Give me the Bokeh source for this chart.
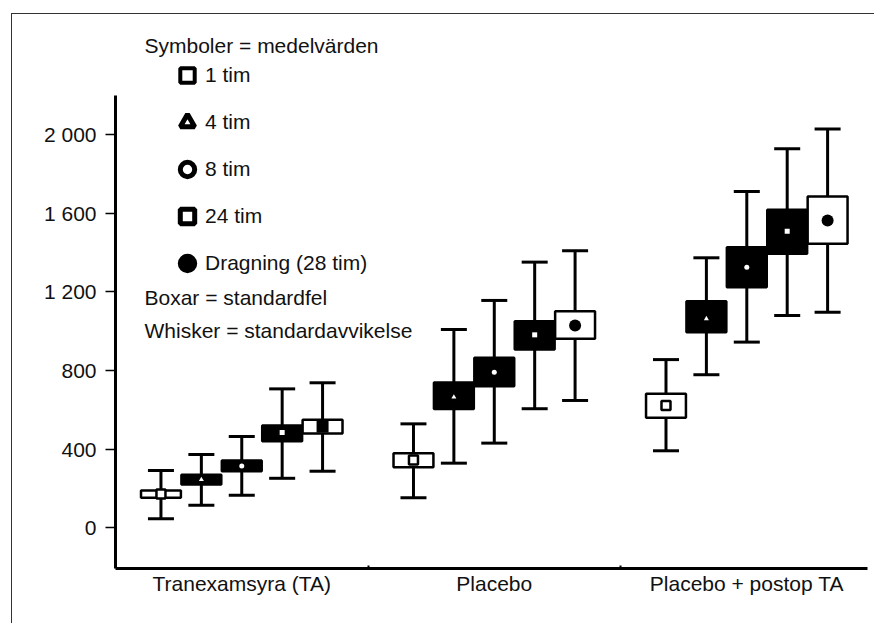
from bokeh.plotting import figure
from bokeh.models import (Range1d, FixedTicker, Label, Legend, LegendItem,
                          ColumnDataSource)
from bokeh.embed import file_html
from bokeh.resources import INLINE

# ---------------- data ----------------
groups = ["Tranexamsyra (TA)", "Placebo", "Placebo + postop TA"]
times = ["1 tim", "4 tim", "8 tim", "24 tim", "Dragning (28 tim)"]

mean_ta = [172, 245, 315, 485, 515]
mean_pl = [345, 665, 792, 982, 1030]
mean_pp = [622, 1064, 1326, 1509, 1564]

se_lo_ta = [153, 220, 288, 441, 480]
se_hi_ta = [190, 270, 342, 521, 550]
se_lo_pl = [308, 604, 721, 907, 962]
se_hi_pl = [380, 739, 865, 1051, 1102]
se_lo_pp = [560, 995, 1224, 1394, 1445]
se_hi_pp = [682, 1153, 1428, 1618, 1686]

sd_lo_ta = [46, 115, 166, 252, 288]
sd_hi_ta = [292, 373, 465, 707, 738]
sd_lo_pl = [153, 329, 431, 606, 648]
sd_hi_pl = [529, 1009, 1157, 1352, 1410]
sd_lo_pp = [392, 779, 945, 1080, 1097]
sd_hi_pp = [856, 1374, 1711, 1929, 2030]

y_ticks = [0, 400, 800, 1200, 1600, 2000]
y_tick_labels = ["0", "400", "800", "1 200", "1 600", "2 000"]

legend_title = "Symboler = medelvärden"
note_box = "Boxar = standardfel"
note_whisker = "Whisker = standardavvikelse"

# ---------------- styles ----------------
FONT = "Liberation Sans"
FS = "21px"
box_w = 0.158
cap_w = 0.103
step = 0.16
box_fill = ["white", "black", "black", "black", "white"]
mean_marker = ["square", "triangle", "circle", "square", "circle"]
mean_fill = ["white", "white", "white", "white", "black"]
mean_size = [9, 5, 5, 5, 12]
mean_line = [2.5, 0, 0, 0, 0]
g1_last_marker = "square"

means = [mean_ta, mean_pl, mean_pp]
se_lo = [se_lo_ta, se_lo_pl, se_lo_pp]
se_hi = [se_hi_ta, se_hi_pl, se_hi_pp]
sd_lo = [sd_lo_ta, sd_lo_pl, sd_lo_pp]
sd_hi = [sd_hi_ta, sd_hi_pl, sd_hi_pp]

rows = dict(x=[], xl=[], xr=[], m=[], lo=[], hi=[], wlo=[], whi=[],
            fill=[], mk=[], mfill=[], msize=[], mline=[])
for gi in range(len(groups)):
    for ti in range(len(times)):
        x = gi + 0.5 + (ti - 2) * step
        rows["x"].append(x)
        rows["xl"].append(x - cap_w / 2)
        rows["xr"].append(x + cap_w / 2)
        rows["m"].append(means[gi][ti])
        rows["lo"].append(se_lo[gi][ti])
        rows["hi"].append(se_hi[gi][ti])
        rows["wlo"].append(sd_lo[gi][ti])
        rows["whi"].append(sd_hi[gi][ti])
        rows["fill"].append(box_fill[ti])
        mk = mean_marker[ti]
        if gi == 0 and ti == 4:
            mk = g1_last_marker
        rows["mk"].append(mk)
        rows["mfill"].append(mean_fill[ti])
        rows["msize"].append(mean_size[ti])
        rows["mline"].append(mean_line[ti])
src = ColumnDataSource(rows)

p = figure(width=863, height=610, output_backend="svg", toolbar_location=None,
           x_range=Range1d(0, 2.978), y_range=Range1d(-207, 2612),
           min_border_left=103, min_border_right=8, min_border_top=0,
           min_border_bottom=56)
p.styles = {"border-left": "1px solid #333", "border-top": "1px solid #333"}
p.margin = (13, 0, 0, 11)
p.outline_line_color = None
p.xgrid.visible = False
p.ygrid.visible = False
p.background_fill_color = "white"
p.border_fill_color = "white"

# whiskers (SD)
p.segment(x0="x", y0="wlo", x1="x", y1="whi", source=src, line_color="black", line_width=3)
p.segment(x0="xl", y0="wlo", x1="xr", y1="wlo", source=src, line_color="black", line_width=3)
p.segment(x0="xl", y0="whi", x1="xr", y1="whi", source=src, line_color="black", line_width=3)
# boxes (SE)
p.vbar(x="x", width=box_w, bottom="lo", top="hi", source=src, fill_color="fill",
       line_color="black", line_width=2.5)
# means
p.scatter(x="x", y="m", marker="mk", size="msize", fill_color="mfill",
          line_color="black", line_width="mline", source=src)

# axes
yax = p.yaxis[0]
yax.ticker = FixedTicker(ticks=y_ticks, minor_ticks=[])
yax.major_label_overrides = {t: l for t, l in zip(y_ticks, y_tick_labels)}
yax.bounds = (-207, 2200)
yax.axis_line_width = 3
yax.axis_line_color = "black"
yax.major_tick_out = 10
yax.major_tick_in = 0
yax.major_tick_line_width = 1.5
yax.minor_tick_line_color = None
yax.major_label_standoff = 9
yax.major_label_text_font = FONT
yax.major_label_text_font_size = FS
yax.major_label_text_color = "#111111"

xax = p.xaxis[0]
centers = [gi + 0.5 for gi in range(len(groups))]
xax.ticker = FixedTicker(ticks=centers, minor_ticks=[1, 2])
xax.major_label_overrides = {c: g for c, g in zip(centers, groups)}
xax.axis_line_width = 3
xax.axis_line_color = "black"
xax.major_tick_line_color = None
xax.major_tick_out = 0
xax.major_tick_in = 0
xax.minor_tick_in = 3
xax.minor_tick_out = 0
xax.minor_tick_line_width = 2
xax.major_label_standoff = 3
xax.major_label_text_font = FONT
xax.major_label_text_font_size = FS
xax.major_label_text_color = "#111111"

# legend
nan = float("nan")
leg_specs = [
    dict(marker="square", fill_color="white", line_color="black", line_width=4),
    dict(marker="triangle", fill_color="white", line_color="black", line_width=5),
    dict(marker="circle", fill_color="white", line_color="black", line_width=5),
    dict(marker="square", fill_color="white", line_color="black", line_width=5),
    dict(marker="circle", fill_color="black", line_color="black", line_width=5),
]
items = []
for name, spec in zip(times, leg_specs):
    r = p.scatter(x=[nan], y=[nan], size=10, **spec)
    items.append(LegendItem(label=name, renderers=[r]))
legend = Legend(items=items, location=(54, 285), glyph_width=36, glyph_height=40,
                spacing=7, padding=0, margin=0, label_standoff=-3,
                label_text_font=FONT, label_text_font_size=FS,
                label_text_color="#111111",
                border_line_alpha=0, background_fill_alpha=0)
p.add_layout(legend)

for txt, yy in [(legend_title, 523), (note_box, 271), (note_whisker, 238)]:
    p.add_layout(Label(x=29, y=yy, x_units="screen", y_units="screen", text=txt,
                       text_font=FONT, text_font_size=FS, text_color="#111111",
                       text_baseline="middle"))

open("out.html", "w").write(file_html(p, INLINE))
